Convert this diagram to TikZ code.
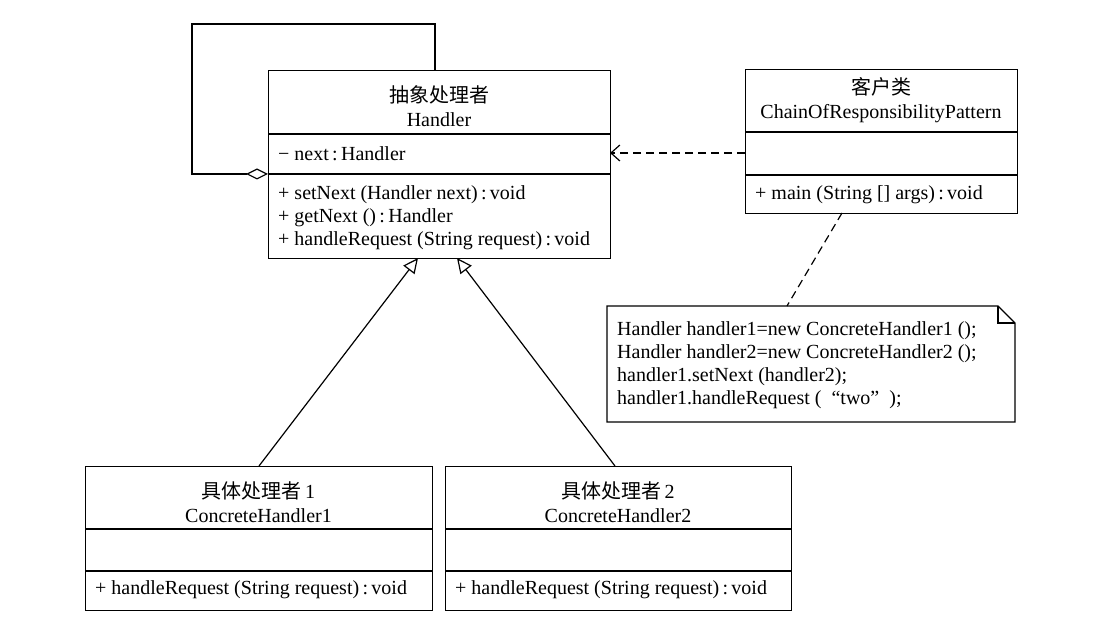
\documentclass[tikz,border=0pt]{standalone}
\usepackage{fontspec}
\setmainfont{Liberation Serif}
\newfontfamily\cjk{Noto Sans CJK SC}
\usetikzlibrary{arrows.meta}
\begin{document}
\begin{tikzpicture}[x=1pt,y=-1pt,
  umlbox/.style={draw, line width=1.2pt, inner sep=0pt, anchor=north west},
  txt/.style={inner sep=0pt, font=\fontsize{20}{23.5}\selectfont, align=center},
  ltxt/.style={inner sep=0pt, font=\fontsize{20}{23}\selectfont, anchor=west},
  divl/.style={line width=1.2pt},
  conn/.style={line width=1.2pt},
  dashconn/.style={line width=1.2pt, dash pattern=on 8pt off 5pt},
]
\useasboundingbox (0,0) rectangle (1104,620);

% Handler
\node[umlbox, minimum width=342pt, minimum height=188pt] (handler) at (268,70) {};
\draw[divl] (268,134) -- (610,134);
\draw[divl] (268,174) -- (610,174);
\node[txt] (hname) at (439,106) {{\cjk 抽象处理者}\\Handler};
\node[ltxt] (hattr) at (278,154) {− next\,:\,Handler};
\node[ltxt] (hm1) at (278,195) {+ setNext (Handler next)\,:\,void};
\node[ltxt] (hm2) at (278,218) {+ getNext ()\,:\,Handler};
\node[ltxt] (hm3) at (278,241) {+ handleRequest (String request)\,:\,void};

% Client
\node[umlbox, minimum width=272pt, minimum height=144pt] (client) at (745,69) {};
\draw[divl] (745,132) -- (1017,132);
\draw[divl] (745,175) -- (1017,175);
\node[txt] (cname) at (881,100) {{\cjk 客户类}\\ChainOfResponsibilityPattern};
\node[ltxt] (cm1) at (755,195) {+ main (String [] args)\,:\,void};

% Note
\coordinate (n1) at (607,306);
\coordinate (n2) at (998,306);
\coordinate (n3) at (1015,323);
\coordinate (n4) at (1015,422);
\coordinate (n5) at (607,422);
\draw[line width=1.2pt] (n1) -- (n2) -- (n3) -- (n4) -- (n5) -- cycle;
\draw[line width=1.2pt] (n2) -- (998,323) -- (n3);
\node[inner sep=0pt, anchor=west, align=left, font=\fontsize{20}{23}\selectfont] (note) at (617,365)
 {Handler handler1=new ConcreteHandler1 ();\\
  Handler handler2=new ConcreteHandler2 ();\\
  handler1.setNext (handler2);\\
  handler1.handleRequest (\ \ “two”\ \ );};

% Concrete handlers
\node[umlbox, minimum width=347pt, minimum height=144pt] (ch1) at (85,466) {};
\draw[divl] (85,529) -- (432,529);
\draw[divl] (85,571) -- (432,571);
\node[txt] (c1name) at (258.5,502) {{\cjk 具体处理者}\,1\\ConcreteHandler1};
\node[ltxt] (c1m) at (95,590) {+ handleRequest (String request)\,:\,void};

\node[umlbox, minimum width=346pt, minimum height=144pt] (ch2) at (445,466) {};
\draw[divl] (445,529) -- (791,529);
\draw[divl] (445,571) -- (791,571);
\node[txt] (c2name) at (618,502) {{\cjk 具体处理者}\,2\\ConcreteHandler2};
\node[ltxt] (c2m) at (455,590) {+ handleRequest (String request)\,:\,void};

% connectors
\coordinate (dia) at (268,174);
\coordinate (lp1) at (192,24);
\coordinate (lp2) at (435,70);
\draw[conn, {Diamond[open,length=22pt,width=11pt,line width=1.2pt]}-] (dia) -| (lp1) -| (lp2);

\coordinate (t1) at (418,258);
\coordinate (s1) at (259,466);
\coordinate (t2) at (457,258);
\coordinate (s2) at (615,466);
\draw[conn, -{Triangle[open,length=15pt,width=14pt,line width=1.2pt]}] (s1) -- (t1);
\draw[conn, -{Triangle[open,length=15pt,width=14pt,line width=1.2pt]}] (s2) -- (t2);

\coordinate (d1) at (745,153);
\coordinate (d2) at (610,153);
\draw[dashconn, -{Straight Barb[length=9pt,width=16pt,line width=1.2pt]}] (d1) -- (d2);

\coordinate (e1) at (842,213);
\coordinate (e2) at (787,306);
\draw[dashconn] (e1) -- (e2);
\end{tikzpicture}
\end{document}
